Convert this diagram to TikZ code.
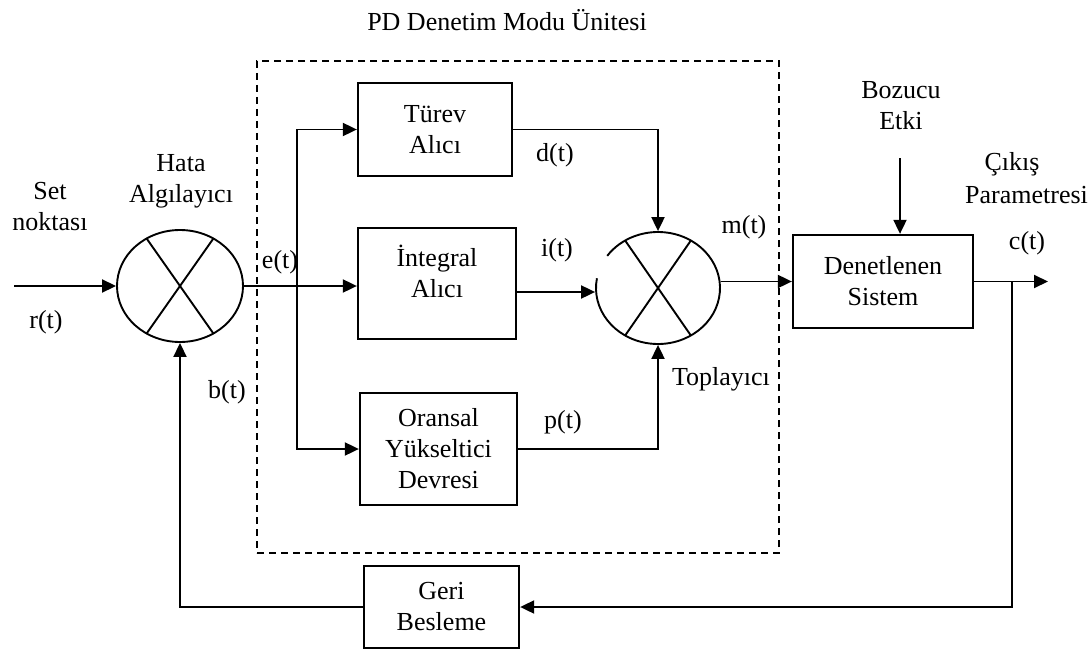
\documentclass[tikz,border=0pt]{standalone}
\usepackage{fontspec}
\setmainfont{Liberation Serif}
\usetikzlibrary{arrows.meta,shapes.geometric}
\begin{document}
\begin{tikzpicture}[x=1pt,y=-1pt,
  conn/.style={line width=1.9pt},
  arr/.style={conn,-{Triangle[length=14pt,width=13pt]}},
  blk/.style={draw,line width=2.3pt,align=center,inner sep=0pt},
  lbl/.style={inner sep=0pt,align=center},
  every node/.append style={font=\fontsize{26}{31}\selectfont}]
\useasboundingbox (0,0) rectangle (1091,650);
\clip (0,0) rectangle (1091,650);

% dashed PD unit frame
\node[draw,line width=1.6pt,dash pattern=on 7pt off 5pt,minimum width=522pt,minimum height=492pt,inner sep=0pt] (pd) at (518,307) {};

% blocks
\node[blk,minimum width=154pt,minimum height=93pt] (tur) at (435,129.5) {Türev\\Alıcı};
\node[blk,minimum width=158pt,minimum height=111pt] (int) at (437,283.5) {};
\node[lbl] (intt) at (437,271) {İntegral\\Alıcı};
\node[blk,minimum width=157pt,minimum height=112pt] (ors) at (438.5,449) {Oransal\\Yükseltici\\Devresi};
\node[blk,minimum width=180pt,minimum height=93pt] (den) at (883,281.5) {Denetlenen\\Sistem};
\node[blk,minimum width=155pt,minimum height=82pt] (geri) at (441.5,607) {Geri\\Besleme};

% error detector
\node[draw,conn,ellipse,minimum width=126pt,minimum height=112pt,inner sep=0pt] (err) at (180,286) {};
\draw[conn] ([shift={(58:63pt and 56pt)}]err.center) -- ([shift={(238:63pt and 56pt)}]err.center);
\draw[conn] ([shift={(122:63pt and 56pt)}]err.center) -- ([shift={(302:63pt and 56pt)}]err.center);

% summer (with gap on the left)
\node[ellipse,minimum width=124pt,minimum height=112pt,inner sep=0pt,outer sep=0.9pt] (sum) at (658,288) {};
\draw[conn] ([shift={(170:62pt and 56pt)}]sum.center) arc[start angle=170, end angle=505, x radius=62pt, y radius=56pt];
\draw[conn] ([shift={(58:62pt and 56pt)}]sum.center) -- ([shift={(238:62pt and 56pt)}]sum.center);
\draw[conn] ([shift={(122:62pt and 56pt)}]sum.center) -- ([shift={(302:62pt and 56pt)}]sum.center);

% free ends
\coordinate (rin) at (14,286);
\coordinate (br) at (297,286);
\coordinate (dist) at (900,158);
\coordinate (out) at (1048,281.5);
\coordinate (tap) at (1012,281.5);
\coordinate (io) at ([yshift=-8.5pt]int.east);

% connectors
\draw[arr] (rin) -- (err.west);
\draw[arr] (err.east) -- (err.east -| int.west);
\draw[arr] (br) |- (tur.west);
\draw[arr] (br) |- (ors.west);
\draw[arr] (tur.east) -| (sum.north);
\draw[arr] (io) -- (io -| sum.west);
\draw[arr] (ors.east) -| (sum.south);
\draw[arr] (sum.east |- den.west) -- (den.west);
\draw[arr] (den.east) -- (out);
\draw[arr] (dist) -- (dist |- den.north);
\draw[arr] (tap) |- (geri.east);
\draw[arr] (geri.west) -| (err.south);

% labels
\node[lbl] (title) at (507,20) {PD Denetim Modu Ünitesi};
\node[lbl] (set) at (50,207) {Set\\noktası};
\node[lbl] (rt) at (46,322) {r(t)};
\node[lbl] (hata) at (181,181) {Hata\\Algılayıcı};
\node[lbl] (bt) at (227,392) {b(t)};
\node[lbl] (et) at (280,262) {e(t)};
\node[lbl] (dt) at (555,155) {d(t)};
\node[lbl] (it) at (557,250) {i(t)};
\node[lbl] (mt) at (744,227) {m(t)};
\node[lbl] (ptl) at (563,422) {p(t)};
\node[lbl] (topl) at (721,379) {Toplayıcı};
\node[lbl] (boz) at (901,106) {Bozucu\\Etki};
\node[lbl] (cik) at (1012,164) {Çıkış};
\node[lbl,anchor=west] (par) at (965,195) {Parametresi};
\node[lbl] (ct) at (1027,243) {c(t)};
\end{tikzpicture}
\end{document}
